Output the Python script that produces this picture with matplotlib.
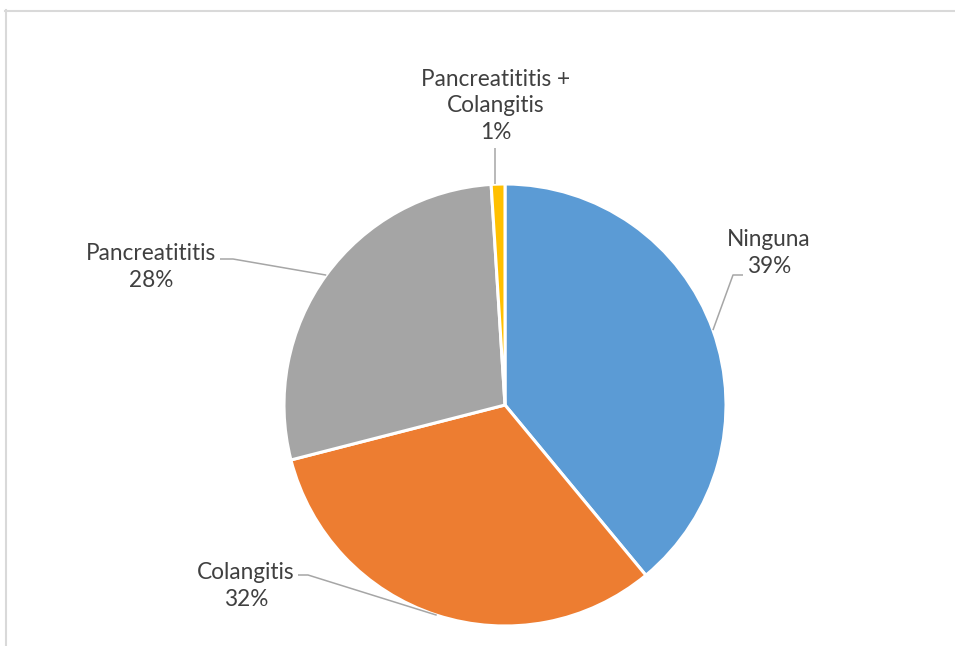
import matplotlib
matplotlib.use("Agg")
import matplotlib.pyplot as plt
from matplotlib.lines import Line2D
import numpy as np

# Complications share
categories = ["Ninguna", "Colangitis", "Pancreatititis", "Pancreatititis +\nColangitis"]
values = [39, 32, 28, 1]
colors = ["#5B9BD5", "#ED7D31", "#A5A5A5", "#FFC000"]

W, H = 955, 646
fig = plt.figure(figsize=(W / 100, H / 100), dpi=100)
plt.rcParams["font.family"] = ["Lato", "DejaVu Sans"]

# pie placed by pixel centre and radius
cx, cy, r = 505, 405, 221
ax = fig.add_axes([(cx - r) / W, (H - cy - r) / H, 2 * r / W, 2 * r / H])
wedges, _ = ax.pie(values, colors=colors, startangle=90, counterclock=False,
                   radius=1, wedgeprops=dict(edgecolor="white", linewidth=2.2))
ax.set_xlim(-1, 1)
ax.set_ylim(-1, 1)
ax.set_aspect("equal")
ax.axis("off")


def px(x, y):
    """pixel position -> data coords of the pie axes"""
    return (x - cx) / r, (cy - y) / r


# label centre and leader start/elbow (in pixels)
label_pos = [(769, 253), (246, 586), (151, 267), (496, 106)]
leaders = [
    [(743, 275), (733, 275)],
    [(298, 575), (308, 575)],
    [(220, 259), (233, 259)],
    [(495, 148)],
]

total = sum(values)
start = 90.0
line_col = "#A6A6A6"
for i, (cat, val) in enumerate(zip(categories, values)):
    ang = start - (val / total) * 360 / 2
    start -= (val / total) * 360
    ex, ey = np.cos(np.radians(ang)), np.sin(np.radians(ang))
    pts = [px(*p) for p in leaders[i]]
    if len(leaders[i]) == 1:
        pts.append((pts[0][0], ey))
    else:
        pts.append((ex, ey))
    xs, ys = zip(*pts)
    ax.plot(xs, ys, color=line_col, lw=1.1, solid_capstyle="butt", clip_on=False)
    tx, ty = px(*label_pos[i])
    ax.text(tx, ty, f"{cat}\n{val}%", ha="center", va="center", ma="center",
            fontsize=16.3, color="#404040", linespacing=1.3)

# chart area frame (top and left edges visible)
fig.add_artist(Line2D([5 / W, 1], [1 - 10.5 / H, 1 - 10.5 / H], color="#D9D9D9", lw=1.5,
                      transform=fig.transFigure))
fig.add_artist(Line2D([5.5 / W, 5.5 / W], [0, 1 - 10 / H], color="#D9D9D9", lw=1.5,
                      transform=fig.transFigure))

fig.savefig("out.png", dpi=100)
